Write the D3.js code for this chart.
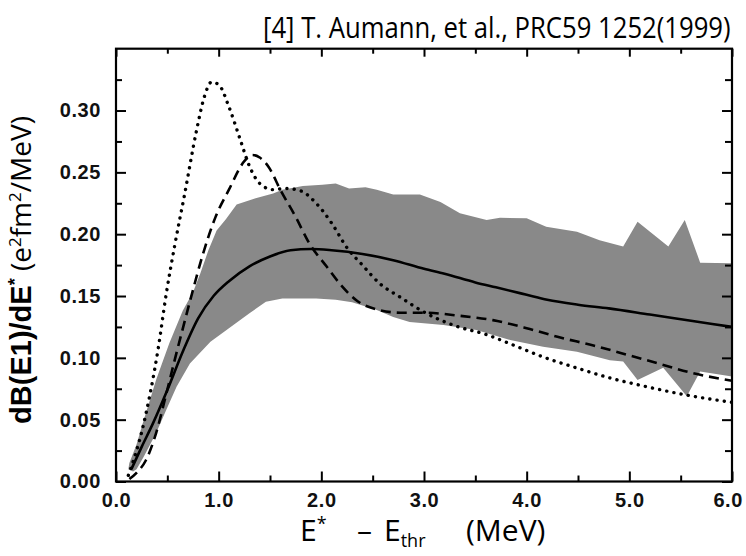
<!DOCTYPE html>
<html>
<head>
<meta charset="utf-8">
<script src="https://cdnjs.cloudflare.com/ajax/libs/d3/7.8.5/d3.min.js"></script>
<style>
  html, body { margin: 0; padding: 0; background: #fff; }
  svg { display: block; }
</style>
</head>
<body>
<svg id="chart" width="746" height="556"></svg>
<script>
// ---------------- data ----------------
const titleText = "[4] T. Aumann, et al., PRC59 1252(1999)";
const xTicks = [0, 1, 2, 3, 4, 5, 6];
const xTickLabels = ["0.0", "1.0", "2.0", "3.0", "4.0", "5.0", "6.0"];
const xMinorTicks = [0.5, 1.5, 2.5, 3.5, 4.5, 5.5];
const yTicks = [0, 0.05, 0.10, 0.15, 0.20, 0.25, 0.30];
const yTickLabels = ["0.00", "0.05", "0.10", "0.15", "0.20", "0.25", "0.30"];
const yMinorTicks = [0.025, 0.075, 0.125, 0.175, 0.225, 0.275, 0.325];

// uncertainty band (upper and lower edges)
const bandUpper = [
  [0.12,0.010],[0.13,0.015],[0.20,0.030],[0.26,0.047],[0.39,0.082],[0.52,0.112],
  [0.65,0.138],[0.75,0.153],[0.82,0.168],[0.90,0.187],[0.98,0.203],[1.07,0.212],
  [1.175,0.224],[1.36,0.229],[1.53,0.233],[1.62,0.236],[1.82,0.239],[2.01,0.240],
  [2.14,0.241],[2.27,0.237],[2.43,0.238],[2.54,0.236],[2.70,0.232],[2.96,0.232],
  [3.16,0.226],[3.35,0.217],[3.61,0.2115],[3.74,0.2133],[4.00,0.2128],[4.19,0.206],
  [4.49,0.202],[4.71,0.195],[4.94,0.190],[5.08,0.210],[5.38,0.190],[5.54,0.2115],
  [5.69,0.177],[6.00,0.1765]
];
const bandLower = [
  [0.12,0.010],[0.166,0.008],[0.20,0.010],[0.27,0.020],[0.39,0.039],[0.49,0.058],
  [0.59,0.0767],[0.72,0.0955],[0.92,0.113],[1.10,0.124],[1.30,0.136],[1.46,0.1454],
  [1.62,0.148],[1.95,0.148],[2.14,0.147],[2.30,0.145],[2.54,0.1387],[2.70,0.133],
  [2.86,0.129],[3.19,0.1266],[3.51,0.1225],[3.84,0.1144],[4.16,0.109],[4.49,0.105],
  [4.81,0.098],[4.94,0.097],[5.08,0.082],[5.33,0.092],[5.56,0.069],[5.69,0.089],
  [6.00,0.085]
];

// solid curve
const solidCurve = [
  [0.15,0.010],[0.25,0.028],[0.36,0.047],[0.50,0.074],[0.65,0.105],[0.80,0.132],
  [0.95,0.150],[1.10,0.162],[1.30,0.174],[1.50,0.182],[1.70,0.187],[1.90,0.188],
  [2.10,0.187],[2.40,0.184],[2.70,0.179],[3.00,0.172],[3.20,0.168],[3.50,0.161],
  [3.70,0.157],[4.00,0.151],[4.20,0.147],[4.50,0.143],[4.80,0.140],[5.20,0.135],
  [5.60,0.130],[6.00,0.125]
];

// dashed curve
const dashedCurve = [
  [0.13,0.002],[0.20,0.007],[0.29,0.017],[0.39,0.039],[0.49,0.071],[0.58,0.101],
  [0.68,0.133],[0.75,0.155],[0.84,0.182],[0.97,0.214],[1.10,0.236],[1.25,0.259],
  [1.33,0.264],[1.40,0.262],[1.49,0.254],[1.60,0.236],[1.75,0.214],[1.88,0.193],
  [2.05,0.174],[2.20,0.158],[2.35,0.146],[2.55,0.139],[2.77,0.1365],[3.00,0.1365],
  [3.35,0.134],[3.67,0.1305],[4.00,0.124],[4.30,0.117],[4.65,0.110],[5.00,0.102],
  [5.30,0.095],[5.60,0.088],[6.00,0.0815]
];

// dotted curve
const dottedCurve = [
  [0.12,0.005],[0.15,0.012],[0.25,0.040],[0.33,0.070],[0.41,0.107],[0.49,0.152],
  [0.57,0.190],[0.67,0.233],[0.78,0.282],[0.86,0.311],[0.93,0.323],[1.00,0.321],
  [1.10,0.303],[1.20,0.279],[1.30,0.255],[1.40,0.241],[1.53,0.236],[1.65,0.237],
  [1.80,0.235],[1.95,0.225],[2.10,0.209],[2.25,0.189],[2.40,0.175],[2.57,0.160],
  [2.77,0.149],[3.00,0.137],[3.30,0.126],[3.60,0.119],[3.85,0.111],[4.15,0.101],
  [4.50,0.0915],[4.80,0.084],[5.15,0.077],[5.55,0.070],[6.00,0.064]
];

// ---------------- drawing ----------------
(function () {
const svg = d3.select("#chart");
const W = 746;
const pLeft = 116, pRight = 732, pTop = 48.7, pBottom = 481.5;

const x = d3.scaleLinear().domain([0, 6]).range([pLeft, pRight]);
const y = d3.scaleLinear().domain([0, 0.35]).range([pBottom, pTop]);

const clipId = "plotclip";
svg.append("defs").append("clipPath").attr("id", clipId)
  .append("rect").attr("x", pLeft).attr("y", pTop)
  .attr("width", pRight - pLeft).attr("height", pBottom - pTop);
const plot = svg.append("g").attr("clip-path", `url(#${clipId})`);

const line = d3.line().x(d => x(d[0])).y(d => y(d[1])).curve(d3.curveMonotoneX);
const polyLine = d3.line().x(d => x(d[0])).y(d => y(d[1]));

// band
const bandPoly = bandUpper.concat(bandLower.slice().reverse());
plot.append("path")
  .attr("d", polyLine(bandPoly) + "Z")
  .attr("fill", "#898989")
  .attr("stroke", "none");

// curves
plot.append("path").attr("d", line(solidCurve))
  .attr("fill", "none").attr("stroke", "#000").attr("stroke-width", 2.6);
plot.append("path").attr("d", line(dashedCurve))
  .attr("fill", "none").attr("stroke", "#000").attr("stroke-width", 2.6)
  .attr("stroke-dasharray", "10 6");
plot.append("path").attr("d", line(dottedCurve))
  .attr("fill", "none").attr("stroke", "#000").attr("stroke-width", 3.4)
  .attr("stroke-linecap", "round")
  .attr("stroke-dasharray", "0.1 7.2");

// axes
const tickFont = "'Liberation Sans', Arial, Helvetica, sans-serif";
function styleAxis(g) {
  g.select(".domain").remove();
  g.selectAll(".tick line").attr("stroke", "#000").attr("stroke-width", 2);
  g.selectAll(".tick text")
    .attr("fill", "#111")
    .style("font-family", tickFont)
    .style("font-weight", "bold")
    .style("font-size", "20px")
    .style("letter-spacing", "0.6px");
}

// bottom
const bottomAxis = svg.append("g").attr("transform", `translate(0,${pBottom})`)
  .call(d3.axisBottom(x).tickValues(xTicks).tickSize(-10).tickPadding(11)
        .tickFormat((d, i) => xTickLabels[i]))
  .call(styleAxis);
// keep the last label inside the picture
bottomAxis.selectAll(".tick text").each(function () {
  const bb = this.getBoundingClientRect();
  if (bb.right > W - 3) d3.select(this).attr("dx", -(bb.right - (W - 3)));
});
svg.append("g").attr("transform", `translate(0,${pBottom})`)
  .call(d3.axisBottom(x).tickValues(xMinorTicks).tickSize(-6).tickFormat(""))
  .call(styleAxis);
// top
svg.append("g").attr("transform", `translate(0,${pTop})`)
  .call(d3.axisTop(x).tickValues(xTicks).tickSize(-8).tickFormat(""))
  .call(styleAxis);
svg.append("g").attr("transform", `translate(0,${pTop})`)
  .call(d3.axisTop(x).tickValues(xMinorTicks).tickSize(-5).tickFormat(""))
  .call(styleAxis);
// left
svg.append("g").attr("transform", `translate(${pLeft},0)`)
  .call(d3.axisLeft(y).tickValues(yTicks).tickSize(-10).tickPadding(15)
        .tickFormat((d, i) => yTickLabels[i]))
  .call(styleAxis);
svg.append("g").attr("transform", `translate(${pLeft},0)`)
  .call(d3.axisLeft(y).tickValues(yMinorTicks).tickSize(-6).tickFormat(""))
  .call(styleAxis);
// right
svg.append("g").attr("transform", `translate(${pRight},0)`)
  .call(d3.axisRight(y).tickValues(yTicks).tickSize(-10).tickFormat(""))
  .call(styleAxis);
svg.append("g").attr("transform", `translate(${pRight},0)`)
  .call(d3.axisRight(y).tickValues(yMinorTicks).tickSize(-7).tickFormat(""))
  .call(styleAxis);

// frame
svg.append("rect")
  .attr("x", pLeft).attr("y", pTop)
  .attr("width", pRight - pLeft).attr("height", pBottom - pTop)
  .attr("fill", "none").attr("stroke", "#000").attr("stroke-width", 2.2);

// title (fit horizontally to the reference width)
const comicFont = "'Open Sans', 'Noto Sans', sans-serif";
const titleG = svg.append("g");
const title = titleG.append("text")
  .attr("x", 0).attr("y", 0)
  .style("font-family", comicFont)
  .style("font-size", "30px")
  .attr("fill", "#000")
  .text(titleText);
const tw = title.node().getComputedTextLength();
const targetW = 468;
titleG.attr("transform", `translate(263,38) scale(${targetW / tw},1)`);

// x-axis title
const xt = svg.append("text")
  .attr("y", 541)
  .style("font-family", comicFont)
  .style("font-size", "30px")
  .attr("fill", "#000");
xt.append("tspan").attr("x", 300).text("E");
xt.append("tspan").attr("dy", -11).style("font-size", "18px").text("*");
xt.append("tspan").attr("x", 357).attr("dy", 11).text("–");
xt.append("tspan").attr("x", 384).text("E");
xt.append("tspan").attr("dy", 6).style("font-size", "18px").text("thr");
xt.append("tspan").attr("x", 466).attr("dy", -6).text("(MeV)");

// y-axis title
const yt = svg.append("text")
  .attr("transform", "translate(31,270) rotate(-90)")
  .attr("text-anchor", "middle")
  .attr("fill", "#000");
yt.append("tspan")
  .style("font-family", tickFont).style("font-weight", "bold").style("font-size", "29px")
  .text("dB(E1)/dE");
yt.append("tspan").attr("dy", -10)
  .style("font-family", tickFont).style("font-weight", "bold").style("font-size", "18px")
  .text("*");
yt.append("tspan").attr("dy", 10)
  .style("font-family", comicFont).style("font-size", "28px")
  .text("  (e");
yt.append("tspan").attr("dy", -10)
  .style("font-family", comicFont).style("font-size", "17px").text("2");
yt.append("tspan").attr("dy", 10)
  .style("font-family", comicFont).style("font-size", "28px").text("fm");
yt.append("tspan").attr("dy", -10)
  .style("font-family", comicFont).style("font-size", "17px").text("2");
yt.append("tspan").attr("dy", 10)
  .style("font-family", comicFont).style("font-size", "28px").text("/MeV)");
})();
</script>
</body>
</html>
